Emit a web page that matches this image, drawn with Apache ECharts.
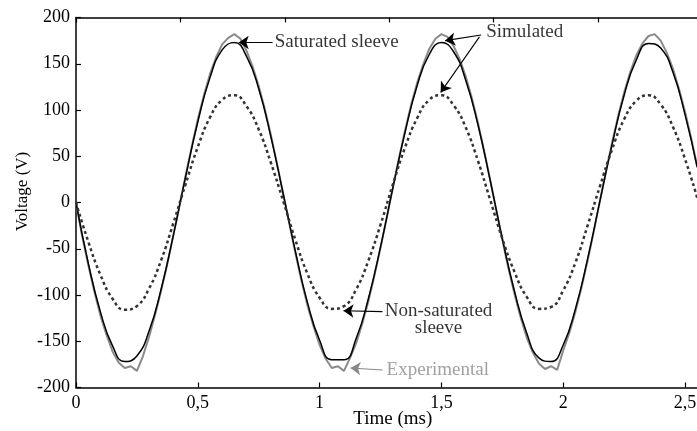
<!DOCTYPE html>
<html>
<head>
<meta charset="utf-8">
<script src="https://cdn.jsdelivr.net/npm/echarts@6/dist/echarts.min.js"></script>
<style>
html,body{margin:0;padding:0;background:#fff;}
#chart{width:697px;height:431px;}
</style>
</head>
<body>
<div id="chart"></div>
<script>
// Time grid (ms) for the simulated curves
const simTimes = [0,0.05,0.1,0.15,0.2,0.25,0.3,0.35,0.4,0.45,0.5,0.55,0.6,0.65,0.7,0.75,0.8,0.85,0.9,0.95,1,1.05,1.1,1.15,1.2,1.25,1.3,1.35,1.4,1.45,1.5,1.55,1.6,1.65,1.7,1.75,1.8,1.85,1.9,1.95,2,2.05,2.1,2.15,2.2,2.25,2.3,2.35,2.4,2.45,2.5,2.55];
// Simulated, saturated sleeve (V)
const saturated = [0,-65,-118,-155,-172,-166,-139,-93,-35,28,87,135,165,173,158,123,71,10,-52,-108,-149,-170,-170,-147,-104,-48,15,75,126,160,173,163,132,84,24,-39,-96,-141,-168,-172,-154,-115,-61,1,62,116,154,172,167,141,95,38];
// Simulated, non-saturated sleeve (V)
const nonSaturated = [0,-42,-78,-104,-116,-112,-93,-62,-22,20,60,92,111,116,104,79,43,2,-40,-77,-103,-115,-112,-94,-63,-24,19,59,91,111,116,105,81,45,3,-39,-75,-102,-115,-113,-95,-65,-25,17,57,90,110,116,106,82,47,5];
// Time grid (ms) for the experimental curve
const expTimes = [0,0.025,0.05,0.075,0.1,0.125,0.15,0.175,0.2,0.225,0.25,0.275,0.3,0.325,0.35,0.375,0.4,0.425,0.45,0.475,0.5,0.525,0.55,0.575,0.6,0.625,0.65,0.675,0.7,0.725,0.75,0.775,0.8,0.825,0.85,0.875,0.9,0.925,0.95,0.975,1,1.025,1.05,1.075,1.1,1.125,1.15,1.175,1.2,1.225,1.25,1.275,1.3,1.325,1.35,1.375,1.4,1.425,1.45,1.475,1.5,1.525,1.55,1.575,1.6,1.625,1.65,1.675,1.7,1.725,1.75,1.775,1.8,1.825,1.85,1.875,1.9,1.925,1.95,1.975,2,2.025,2.05,2.075,2.1,2.125,2.15,2.175,2.2,2.225,2.25,2.275,2.3,2.325,2.35,2.375,2.4,2.425,2.45,2.475,2.5,2.525,2.55];
// Experimental (V)
const experimental = [0,-36,-67,-96,-122,-143,-161,-173,-179,-177,-182,-166,-145,-121,-95,-66,-35,-3,29,60,90,116,139,157,171,178,182,177,164,147,126,101,73,42,10,-22,-54,-84,-111,-134,-154,-169,-179,-177,-182,-168,-152,-131,-107,-79,-49,-17,15,47,77,105,129,149,166,177,182,179,169,155,136,113,86,56,25,-8,-40,-71,-99,-124,-146,-162,-174,-180,-177,-181,-160,-141,-118,-92,-63,-32,1,33,64,93,119,141,159,172,180,182,175,162,145,123,98,70,39];
// Tick labels
const xTickLabels = {0:'0',0.5:'0,5',1:'1',1.5:'1,5',2:'2',2.5:'2,5'};
const yTicks = [-200,-150,-100,-50,0,50,100,150,200];

// Annotations (data coordinates)
const arrows = [
  {from:[0.807,173], to:[0.668,173], color:'#000'},
  {from:[1.663,181], to:[1.515,175], color:'#000'},
  {from:[1.656,179], to:[1.497,119], color:'#000'},
  {from:[1.258,-118], to:[1.098,-117], color:'#000'},
  {from:[1.258,-181], to:[1.127,-179], color:'#888'}
];
const notes = [
  {pos:[0.816,173.5], text:'Saturated sleeve', align:'left', color:'#000'},
  {pos:[1.684,184], text:'Simulated', align:'left', color:'#000'},
  {pos:[1.488,-127], text:'Non-saturated\nsleeve', align:'center', color:'#000'},
  {pos:[1.275,-181], text:'Experimental', align:'left', color:'#888'}
];

const FONT = 'Liberation Serif';
const chart = echarts.init(document.getElementById('chart'), null, {renderer:'canvas'});
const axisLine = {show:true, onZero:false, lineStyle:{color:'#000', width:1.5}};
const axisTick = {show:true, inside:true, length:5, lineStyle:{color:'#000', width:1.2}};

chart.setOption({
  animation:false,
  backgroundColor:'#fff',
  grid:{left:76, right:-12.4, top:17.5, bottom:43.5, containLabel:false, outerBoundsMode:'none'},
  xAxis:[
    {type:'value', min:0, max:2.6, interval:0.5, position:'bottom',
     axisLine:axisLine, axisTick:axisTick, splitLine:{show:false},
     axisLabel:{color:'#000', fontFamily:FONT, fontSize:18, margin:7,
       formatter:function(v){ const k = Math.round(v*10)/10; return xTickLabels[k] !== undefined ? xTickLabels[k] : ''; }},
     name:'Time (ms)', nameLocation:'middle', nameGap:22, nameMoveOverlap:false,
     nameTextStyle:{color:'#000', fontFamily:FONT, fontSize:19}},
    {type:'value', min:0, max:2.6, interval:3/7, position:'top',
     axisLine:axisLine, axisTick:axisTick, splitLine:{show:false},
     axisLabel:{show:false}}
  ],
  yAxis:[
    {type:'value', min:-200, max:200, interval:50,
     axisLine:axisLine, axisTick:axisTick, splitLine:{show:false},
     axisLabel:{color:'#000', fontFamily:FONT, fontSize:18, margin:6,
       formatter:function(v){ return yTicks.indexOf(v) >= 0 ? String(v) : ''; }},
     name:'Voltage (V)', nameLocation:'middle', nameGap:45, nameMoveOverlap:false,
     nameTextStyle:{color:'#000', fontFamily:FONT, fontSize:17, padding:[0,0,0,22]}}
  ],
  series:[
    {name:'Experimental', type:'line', xAxisIndex:0, symbol:'none', smooth:false,
     lineStyle:{color:'#8a8a8a', width:2}, z:1,
     data:expTimes.map((t,i)=>[t, experimental[i]])},
    {name:'Saturated sleeve', type:'line', xAxisIndex:0, symbol:'none', smooth:true,
     lineStyle:{color:'#000', width:1.5}, z:2,
     data:simTimes.map((t,i)=>[t, saturated[i]])},
    {name:'Non-saturated sleeve', type:'line', xAxisIndex:0, symbol:'none', smooth:true,
     lineStyle:{color:'#333', width:2.5, type:[3,3]}, z:3,
     data:simTimes.map((t,i)=>[t, nonSaturated[i]])},
    {name:'arrows', type:'line', xAxisIndex:0, data:[], silent:true, z:6,
     markLine:{silent:true, animation:false, symbol:['none','arrow'], symbolSize:10,
       label:{show:false}, emphasis:{disabled:true},
       data:arrows.map(a=>[
         {coord:a.from, symbol:'none', lineStyle:{color:a.color, width:1.1, type:'solid'}, itemStyle:{color:a.color}},
         {coord:a.to, symbol:'arrow', symbolSize:10, itemStyle:{color:a.color}}
       ])}},
    {name:'notes', type:'scatter', xAxisIndex:0, symbolSize:0, silent:true, z:5,
     data:notes.map(n=>({value:n.pos, label:{show:true, position:'inside', formatter:n.text,
       align:n.align, verticalAlign:'middle', color:n.color, fontFamily:FONT, fontSize:19, lineHeight:17}}))}
  ]
});
</script>
</body>
</html>
